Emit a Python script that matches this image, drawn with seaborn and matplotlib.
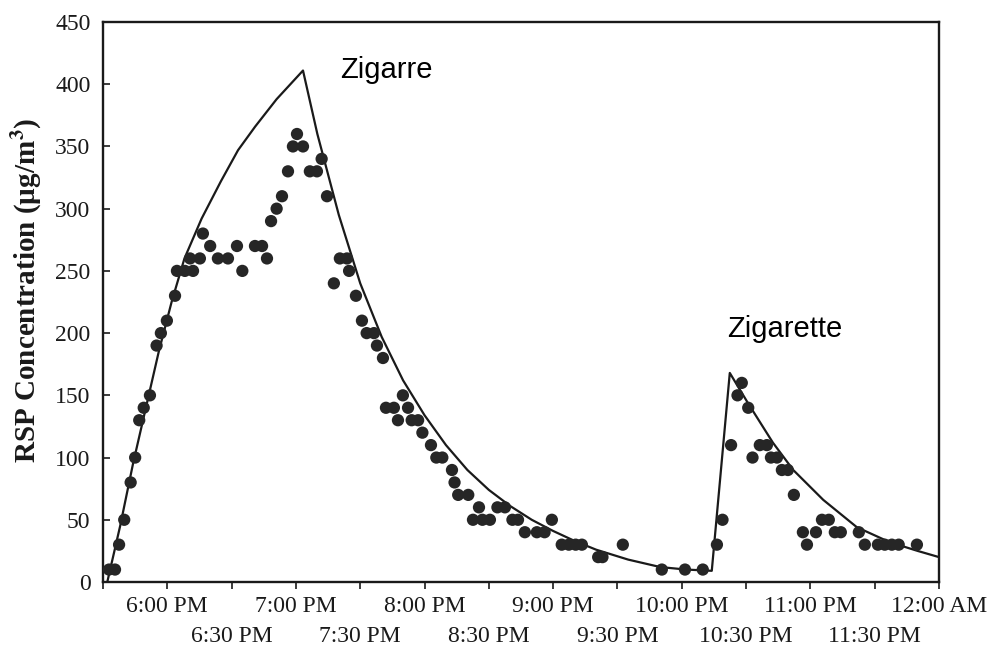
import matplotlib
matplotlib.use("Agg")
import matplotlib.pyplot as plt
import numpy as np
import pandas as pd
import seaborn as sns

# Observed RSP readings: minutes after 5:30 PM and concentration (ug/m3)
obs_minutes = [2.8, 5.6, 7.5, 9.9, 12.9, 15.0, 16.9, 19.0, 21.9, 25.0,
               27.0, 29.8, 33.6, 34.5, 38.2, 42.0, 40.6, 45.2, 46.6, 50.0,
               53.6, 58.3, 62.5, 65.0, 70.9, 74.2, 76.5, 78.4, 81.0, 83.5,
               86.3, 88.6, 90.5, 93.3, 96.5, 99.8, 102.0, 104.5, 107.7, 110.5,
               113.8, 114.8, 118.0, 120.8, 123.0, 126.4, 127.8, 130.6, 132.0, 135.7,
               137.6, 139.9, 142.3, 144.0, 147.0, 149.0, 153.0, 155.5, 158.3, 162.8,
               164.0, 165.7, 170.4, 172.6, 175.4, 177.0, 180.5, 184.0, 187.5, 191.0,
               193.6, 196.8, 202.4, 206.0, 209.4, 214.0, 217.3, 220.5, 223.4, 231.0,
               233.0, 242.5, 260.7, 271.5, 279.8, 286.4, 289.0, 293.0, 296.0, 298.0,
               301.0, 303.0, 306.4, 309.7, 311.6, 314.4, 316.7, 319.5, 322.3, 326.5,
               328.4, 332.6, 335.4, 338.6, 341.4, 344.2, 352.6, 355.4, 361.5, 364.7,
               368.0, 371.2, 379.7]
obs_rsp = [10, 10, 30, 50, 80, 100, 130, 140, 150, 190,
           200, 210, 230, 250, 250, 250, 260, 260, 280, 270,
           260, 260, 270, 250, 270, 270, 260, 290, 300, 310,
           330, 350, 360, 350, 330, 330, 340, 310, 240, 260,
           260, 250, 230, 210, 200, 200, 190, 180, 140, 140,
           130, 150, 140, 130, 130, 120, 110, 100, 100, 90,
           80, 70, 70, 50, 60, 50, 50, 60, 60, 50,
           50, 40, 40, 40, 50, 30, 30, 30, 30, 20,
           20, 30, 10, 10, 10, 30, 50, 110, 150, 160,
           140, 100, 110, 110, 100, 100, 90, 90, 70, 40,
           30, 40, 50, 50, 40, 40, 40, 30, 30, 30,
           30, 30, 30]

# Mass-balance model curve (cigar, then cigarette)
model_minutes = [2, 8, 14, 20, 26, 32, 38, 46, 55, 63, 71, 81, 93.3,
                 100, 110, 120, 130, 140, 150, 160, 170, 180, 190, 200,
                 210, 220, 230, 245, 260, 272, 284, 292.4,
                 300.8, 312.5, 322, 336, 351.7, 367, 380, 390]
model_rsp = [0, 45, 95, 140, 185, 225, 260, 292, 322, 347, 366, 388, 411,
             360, 295, 240, 197, 162, 134, 110, 90, 74, 61, 50,
             41, 33, 26, 18, 12, 10, 9, 168,
             144, 112, 90, 66, 44, 32, 25, 20]

# Hour ticks (first label row) and half-hour ticks (second label row)
hour_minutes = [30, 90, 150, 210, 270, 330, 390]
hour_labels = ["6:00 PM", "7:00 PM", "8:00 PM", "9:00 PM", "10:00 PM",
               "11:00 PM", "12:00 AM"]
half_minutes = [0, 60, 120, 180, 240, 300, 360]
half_labels = ["", "6:30 PM", "7:30 PM", "8:30 PM", "9:30 PM", "10:30 PM",
               "11:30 PM"]

obs = pd.DataFrame({"minutes": obs_minutes, "rsp": obs_rsp})
model = pd.DataFrame({"minutes": model_minutes, "rsp": model_rsp})

sns.set_theme(style="ticks")
plt.rcParams["font.family"] = ["Liberation Serif", "DejaVu Serif"]
plt.rcParams["mathtext.fontset"] = "stix"

ink = "#1a1a1a"
fig = plt.figure(figsize=(9.94, 6.51), dpi=100)
ax = fig.add_axes([103 / 994, 1 - 582 / 651, (939 - 103) / 994, (582 - 22) / 651])

sns.lineplot(data=model, x="minutes", y="rsp", ax=ax, color=ink,
             linewidth=1.6, sort=False, estimator=None)
sns.scatterplot(data=obs, x="minutes", y="rsp", ax=ax, color="#262626",
                s=78, edgecolor="none", zorder=3)

ax.set_xlim(0, 390)
ax.set_ylim(0, 450)
ax.set_yticks(np.arange(0, 451, 50))
ax.set_xticks(hour_minutes)
ax.set_xticklabels(hour_labels)
ax.set_xticks(half_minutes, minor=True)
ax.set_xticklabels(half_labels, minor=True)

ax.tick_params(axis="x", which="major", direction="out", length=5, width=1.2,
               pad=5, labelsize=17, colors=ink)
ax.tick_params(axis="x", which="minor", direction="out", length=5, width=1.2,
               pad=27, labelsize=17, colors=ink)
ax.tick_params(axis="y", direction="in", length=5, width=1.2, pad=9,
               labelsize=17, colors=ink)

for side in ["top", "right", "bottom", "left"]:
    ax.spines[side].set_visible(True)
    ax.spines[side].set_linewidth(1.7)
    ax.spines[side].set_color(ink)

ax.set_xlabel("")
ax.set_ylabel("RSP Concentration (\u00b5g/m$^{\\mathbf{3}}$)", fontsize=21,
              fontweight="bold", color=ink)
ax.yaxis.set_label_coords(-0.071, 0.52)

ax.text(110.5, 405, "Zigarre", family=["Liberation Sans", "DejaVu Sans"],
        fontsize=21, va="baseline", ha="left", color="black",
        bbox=dict(facecolor="white", edgecolor="none", pad=6))
ax.text(291, 197, "Zigarette", family=["Liberation Sans", "DejaVu Sans"],
        fontsize=21, va="baseline", ha="left", color="black",
        bbox=dict(facecolor="white", edgecolor="none", pad=6))

fig.savefig("out.png", dpi=100, facecolor="white")
